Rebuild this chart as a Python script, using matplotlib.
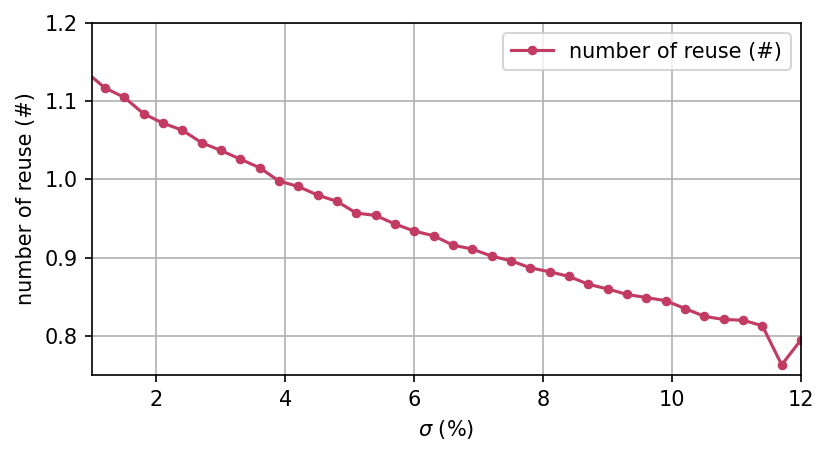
import matplotlib
matplotlib.use("Agg")
import matplotlib.pyplot as plt

sigma = [0.9, 1.2, 1.5, 1.8, 2.1, 2.4, 2.7, 3.0, 3.3, 3.6, 3.9, 4.2, 4.5, 4.8, 5.1, 5.4,
         5.7, 6.0, 6.3, 6.6, 6.9, 7.2, 7.5, 7.8, 8.1, 8.4, 8.7, 9.0, 9.3, 9.6, 9.9,
         10.2, 10.5, 10.8, 11.1, 11.4, 11.7, 12.0]
reuse = [1.138, 1.117, 1.105, 1.084, 1.072, 1.063, 1.047, 1.037, 1.026, 1.015, 0.998,
         0.991, 0.980, 0.972, 0.957, 0.954, 0.943, 0.934, 0.928, 0.916, 0.911, 0.902,
         0.896, 0.887, 0.882, 0.876, 0.866, 0.860, 0.853, 0.849, 0.845, 0.835, 0.825,
         0.821, 0.820, 0.813, 0.763, 0.795]
xticks = [2, 4, 6, 8, 10, 12]
yticks = [0.8, 0.9, 1.0, 1.1, 1.2]

plt.rcParams['font.family'] = ['DejaVu Sans']
dpi = 150
fig = plt.figure(figsize=(831 / dpi, 456 / dpi), dpi=dpi)
ax = fig.add_axes([0.1107, 0.1776, 0.8532, 0.772])
ax.plot(sigma, reuse, color='#c23b63', marker='o', markersize=3.6, linewidth=1.5,
        label='number of reuse (#)')
ax.set_xlim(1, 12)
ax.set_ylim(0.75, 1.2)
ax.set_xticks(xticks)
ax.set_yticks(yticks)
ax.set_yticklabels([f'{v:.1f}' for v in yticks])
ax.grid(True, color='#b0b0b0', linewidth=0.8)
ax.set_axisbelow(True)
ax.set_xlabel(r'$\sigma$ (%)')
ax.set_ylabel('number of reuse (#)')
ax.legend(loc='upper right')
fig.savefig('out.png', dpi=dpi)
